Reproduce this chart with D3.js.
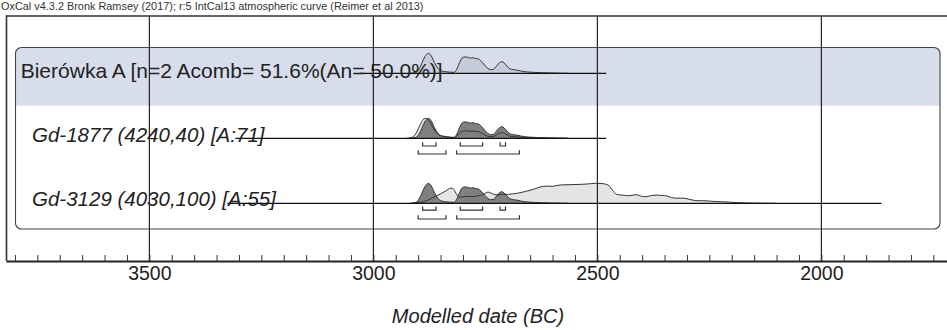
<!DOCTYPE html>
<html>
<head>
<meta charset="utf-8">
<script src="https://cdn.jsdelivr.net/npm/d3@7"></script>
<style>
  html, body { margin: 0; padding: 0; background: #fff; }
  svg { display: block; font-family: "Liberation Sans", Arial, Helvetica, sans-serif; }
</style>
</head>
<body>
<svg id="chart" width="947" height="330"></svg>
<script>
// ---- Data -------------------------------------------------------------
const headerText = "OxCal v4.3.2 Bronk Ramsey (2017); r:5 IntCal13 atmospheric curve (Reimer et al 2013)";
const axisTitle = "Modelled date (BC)";

const rowLabels = [
  "Bierówka A [n=2 Acomb= 51.6%(An= 50.0%)]",
  "Gd-1877 (4240,40) [A:71]",
  "Gd-3129 (4030,100) [A:55]"
];
const rowItalic = [false, true, true];

// extent of each row's baseline (years BC)
const rowLineStart = [3030, 3308, 3326];
const rowLineEnd   = [2480, 2480, 1866];

const majorTicks = [3500, 3000, 2500, 2000];
const tickLabels = ["3500", "3000", "2500", "2000"];
const minorTicks = d3.range(3800, 1719, -50);

// combined (posterior) probability, relative density
const postYears   = [2920, 2905, 2896, 2888, 2882, 2877, 2871, 2864, 2856, 2848, 2840, 2830, 2820, 2814, 2808, 2802, 2796, 2790, 2784, 2778, 2772, 2766, 2760, 2752, 2745, 2738, 2732, 2726, 2720, 2714, 2708, 2702, 2696, 2688, 2680, 2672, 2662, 2652, 2640, 2625, 2610, 2590, 2565];
const postDensity = [0, 0.04, 0.3, 0.7, 0.93, 1.0, 0.88, 0.55, 0.25, 0.12, 0.08, 0.06, 0.05, 0.2, 0.52, 0.76, 0.82, 0.8, 0.76, 0.78, 0.74, 0.72, 0.62, 0.42, 0.25, 0.18, 0.2, 0.34, 0.5, 0.58, 0.52, 0.36, 0.24, 0.18, 0.16, 0.12, 0.08, 0.06, 0.045, 0.03, 0.02, 0.01, 0];

// calibrated likelihood, Gd-1877
const gd1877Years   = [2925, 2912, 2903, 2895, 2889, 2884, 2879, 2873, 2866, 2858, 2850, 2842, 2835, 2828, 2820, 2814, 2808, 2802, 2796, 2790, 2784, 2778, 2772, 2766, 2760, 2752, 2745, 2738, 2732, 2726, 2720, 2714, 2708, 2702, 2696, 2688, 2680, 2670, 2658, 2645, 2630, 2615, 2600, 2585, 2565];
const gd1877Density = [0, 0.06, 0.32, 0.7, 0.94, 1.0, 0.95, 0.78, 0.5, 0.25, 0.13, 0.1, 0.07, 0.04, 0.03, 0.1, 0.25, 0.34, 0.37, 0.37, 0.35, 0.36, 0.34, 0.33, 0.28, 0.18, 0.1, 0.08, 0.09, 0.16, 0.25, 0.29, 0.26, 0.17, 0.11, 0.08, 0.07, 0.05, 0.035, 0.025, 0.02, 0.02, 0.01, 0.005, 0];

// calibrated likelihood, Gd-3129
const gd3129Years   = [2915, 2900, 2885, 2872, 2860, 2848, 2838, 2830, 2824, 2818, 2812, 2806, 2798, 2790, 2780, 2770, 2760, 2752, 2744, 2738, 2730, 2722, 2714, 2706, 2698, 2690, 2680, 2670, 2660, 2650, 2640, 2630, 2620, 2610, 2600, 2590, 2580, 2565, 2550, 2535, 2520, 2505, 2492, 2482, 2474, 2466, 2458, 2450, 2440, 2430, 2420, 2412, 2404, 2395, 2385, 2375, 2365, 2355, 2345, 2335, 2325, 2315, 2305, 2295, 2285, 2275, 2265, 2255, 2245, 2235, 2225, 2215, 2205, 2195, 2185, 2170, 2150, 2130, 2100];
const gd3129Density = [0, 0.04, 0.1, 0.22, 0.36, 0.5, 0.62, 0.74, 0.76, 0.6, 0.38, 0.3, 0.33, 0.34, 0.34, 0.36, 0.4, 0.48, 0.56, 0.52, 0.44, 0.42, 0.45, 0.44, 0.45, 0.47, 0.5, 0.54, 0.6, 0.65, 0.72, 0.8, 0.85, 0.86, 0.85, 0.89, 0.92, 0.93, 0.94, 0.95, 0.97, 1.0, 0.99, 0.96, 0.88, 0.65, 0.46, 0.42, 0.4, 0.38, 0.41, 0.43, 0.37, 0.33, 0.36, 0.4, 0.41, 0.39, 0.37, 0.29, 0.26, 0.26, 0.25, 0.2, 0.15, 0.13, 0.13, 0.12, 0.1, 0.09, 0.08, 0.07, 0.06, 0.04, 0.03, 0.02, 0.01, 0.005, 0];

// highest posterior density ranges (years BC)
const range68 = [[2890, 2860], [2806, 2756], [2717, 2705]];
const range95 = [[2900, 2838], [2814, 2674]];

// ---- Layout -----------------------------------------------------------
const svg = d3.select("#chart");
const x = d3.scaleLinear().domain([3820, 1720]).range([6, 946.8]);
const rowBase = [73.3, 138.3, 203.3];
const h = d3.scaleLinear().domain([0, 1]).range([0, 20]);

const frameTop = 16, axisY = 261;
const box = { x0: 15.5, x1: 940, y0: 47.5, y1: 229, r: 6 };
const bandBottom = 105.7;

const zip = (ys, ds) => ys.map((yr, i) => [yr, ds[i]]);
const areaFor = base => d3.area().x(d => x(d[0])).y0(base).y1(d => base - h(d[1])).curve(d3.curveMonotoneX);
const lineFor = base => d3.line().x(d => x(d[0])).y(d => base - h(d[1])).curve(d3.curveMonotoneX);

const post = zip(postYears, postDensity);
const lik = [null, zip(gd1877Years, gd1877Density), zip(gd3129Years, gd3129Density)];

// header
svg.append("text").attr("x", 1).attr("y", 9.5)
  .attr("font-size", 10.9).attr("fill", "#333").text(headerText);

// rounded group box with the shaded combine band
svg.append("clipPath").attr("id", "boxClip")
  .append("rect").attr("x", box.x0).attr("y", box.y0)
  .attr("width", box.x1 - box.x0).attr("height", box.y1 - box.y0).attr("rx", box.r);
svg.append("rect").attr("clip-path", "url(#boxClip)")
  .attr("x", box.x0).attr("y", box.y0)
  .attr("width", box.x1 - box.x0).attr("height", bandBottom - box.y0)
  .attr("fill", "#d7ddeb");

// distributions
rowBase.forEach((base, i) => {
  const g = svg.append("g");
  if (i === 0) {
    g.append("path").datum(post).attr("d", areaFor(base)).attr("fill", "#c6cbd8");
    g.append("path").datum(post).attr("d", lineFor(base))
      .attr("fill", "none").attr("stroke", "#333").attr("stroke-width", 1);
  } else {
    g.append("path").datum(lik[i]).attr("d", areaFor(base)).attr("fill", "#e5e5e5");
    g.append("path").datum(post).attr("d", areaFor(base)).attr("fill", "#808080");
    g.append("path").datum(post).attr("d", lineFor(base))
      .attr("fill", "none").attr("stroke", "#333").attr("stroke-width", 1);
    g.append("path").datum(lik[i]).attr("d", lineFor(base))
      .attr("fill", "none").attr("stroke", "#333").attr("stroke-width", 1);

    // range brackets
    const bracket = (r, yb, len) => {
      const x0 = x(r[0]), x1 = x(r[1]);
      g.append("path")
        .attr("d", `M${x0},${yb - len}V${yb}H${x1}V${yb - len}`)
        .attr("fill", "none").attr("stroke", "#333").attr("stroke-width", 1.2);
    };
    const off68 = i === 1 ? 7.7 : 6.8;
    range68.forEach(r => bracket(r, base + off68, 3.7));
    range95.forEach(r => bracket(r, base + 15.7, 3.7));
  }
});

// vertical grid lines
svg.append("g").selectAll("line").data(majorTicks).join("line")
  .attr("x1", d => x(d)).attr("x2", d => x(d))
  .attr("y1", frameTop).attr("y2", axisY)
  .attr("stroke", "#111").attr("stroke-width", 1.1);

// row baselines
svg.append("g").selectAll("line").data(rowBase).join("line")
  .attr("x1", (d, i) => x(rowLineStart[i])).attr("x2", (d, i) => x(rowLineEnd[i]))
  .attr("y1", d => d).attr("y2", d => d)
  .attr("stroke", "#111").attr("stroke-width", 1.2);

// row labels
svg.append("g").selectAll("text").data(rowLabels).join("text")
  .attr("x", (d, i) => i === 0 ? 20.7 : 32)
  .attr("y", (d, i) => [77.5, 142, 205.5][i])
  .attr("font-size", (d, i) => i === 0 ? 21 : 20.5)
  .attr("font-style", (d, i) => rowItalic[i] ? "italic" : "normal")
  .attr("fill", "#222")
  .text(d => d);

// group box outline
svg.append("rect").attr("x", box.x0).attr("y", box.y0)
  .attr("width", box.x1 - box.x0).attr("height", box.y1 - box.y0).attr("rx", box.r)
  .attr("fill", "none").attr("stroke", "#444").attr("stroke-width", 1.1);

// outer frame (left and top)
svg.append("path").attr("d", `M6.5,${axisY}V${frameTop}H947`)
  .attr("fill", "none").attr("stroke", "#333").attr("stroke-width", 1.6);

// axis: minor ticks pointing up, labels below
const minorAxis = d3.axisBottom(x).tickValues(minorTicks).tickSizeInner(-6).tickSizeOuter(0).tickFormat("");
const gMinor = svg.append("g").attr("transform", `translate(0,${axisY})`).call(minorAxis);
gMinor.select(".domain").attr("stroke", "#222").attr("stroke-width", 2.2);
gMinor.selectAll(".tick line").attr("stroke", "#333").attr("stroke-width", 1);

const labelAxis = d3.axisBottom(x).tickValues(majorTicks).tickSize(0).tickPadding(5)
  .tickFormat((d, i) => tickLabels[i]);
const gLab = svg.append("g").attr("transform", `translate(0,${axisY})`).call(labelAxis);
gLab.select(".domain").remove();
gLab.selectAll("text").attr("font-size", 19.5).attr("fill", "#222")
  .attr("font-family", "'Liberation Sans', Arial, sans-serif");

// axis title
svg.append("text").attr("x", 478).attr("y", 322.5)
  .attr("text-anchor", "middle").attr("font-size", 20).attr("font-style", "italic")
  .attr("fill", "#222").text(axisTitle);
</script>
</body>
</html>
